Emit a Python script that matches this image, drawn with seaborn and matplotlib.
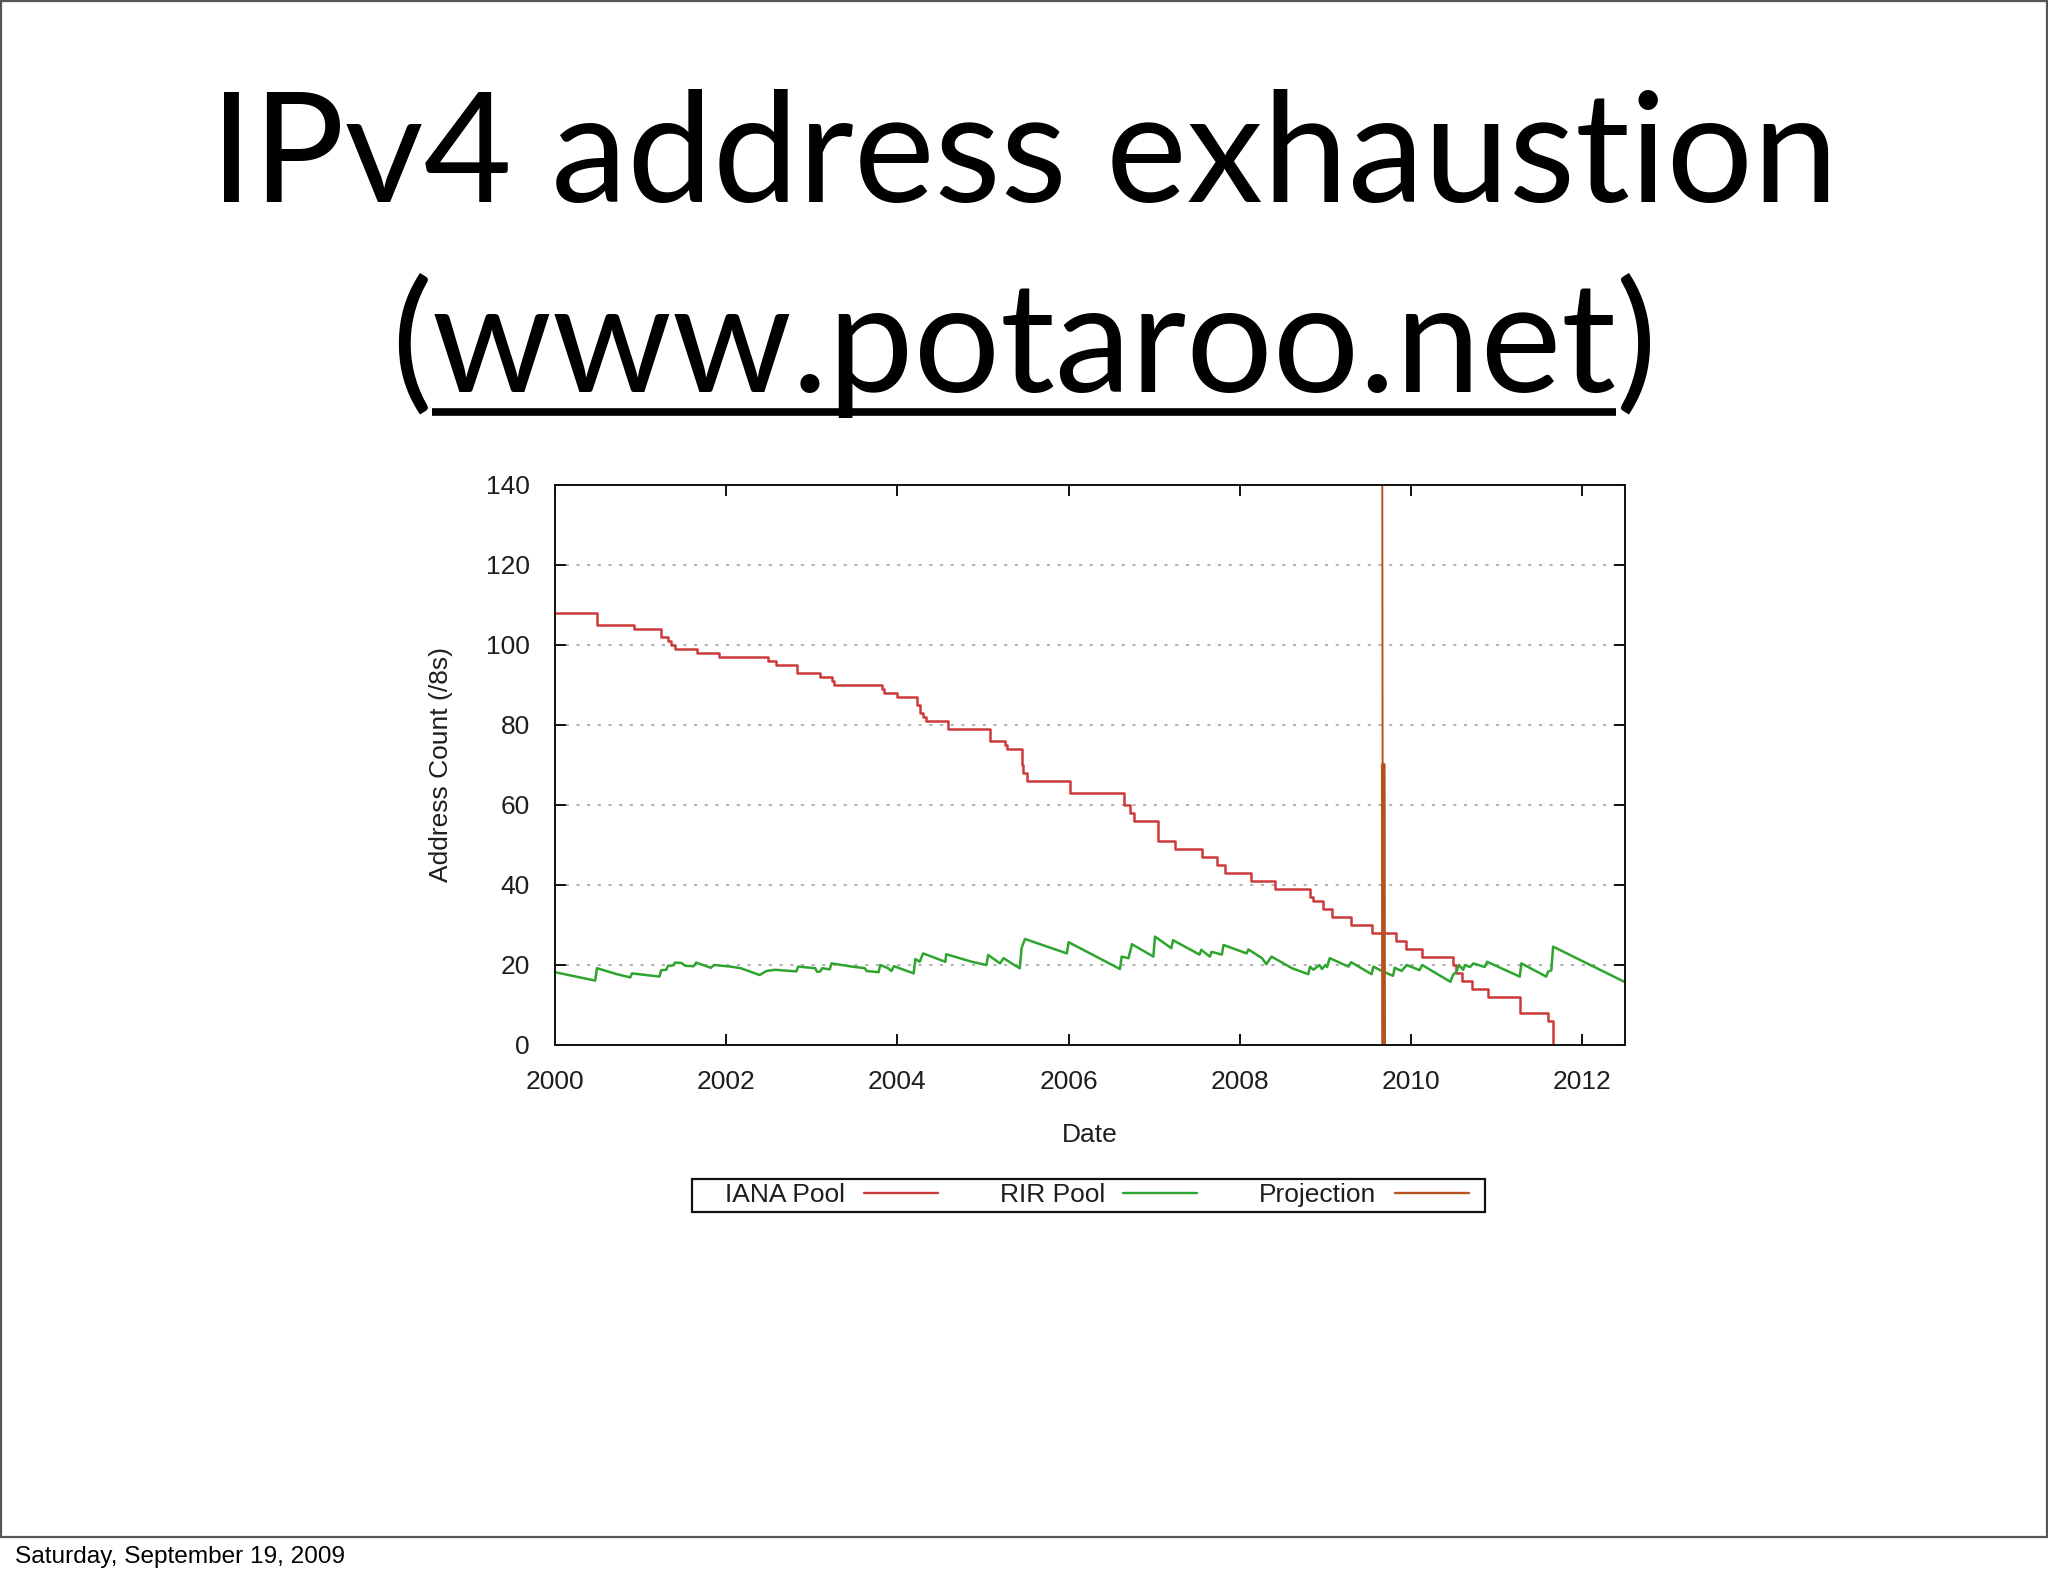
import numpy as np
import pandas as pd
import matplotlib
matplotlib.use("Agg")
import matplotlib.pyplot as plt
import seaborn as sns
from matplotlib.patches import Rectangle
from matplotlib.lines import Line2D

# ---------------- data ----------------
title_lines = ["IPv4 address exhaustion", "(www.potaroo.net)"]
underlined_part = "www.potaroo.net"
footer_text = "Saturday, September 19, 2009"
x_label = "Date"
y_label = "Address Count (/8s)"
legend_labels = ["IANA Pool", "RIR Pool", "Projection"]
x_ticks = [2000, 2002, 2004, 2006, 2008, 2010, 2012]
y_ticks = [0, 20, 40, 60, 80, 100, 120, 140]

# IANA pool: step start (year) and remaining /8 count
iana_years = [2000.00, 2000.49, 2000.92, 2001.24, 2001.32, 2001.35, 2001.40, 2001.66,
              2001.92, 2002.49, 2002.58, 2002.83, 2003.09, 2003.24, 2003.26, 2003.82,
              2003.84, 2004.00, 2004.23, 2004.26, 2004.30, 2004.33, 2004.59, 2005.08,
              2005.26, 2005.28, 2005.45, 2005.47, 2005.51, 2006.02, 2006.65, 2006.72,
              2006.76, 2007.05, 2007.24, 2007.56, 2007.73, 2007.83, 2008.13, 2008.41,
              2008.82, 2008.86, 2008.97, 2009.08, 2009.30, 2009.55, 2009.82, 2009.94,
              2010.13, 2010.49, 2010.52, 2010.59, 2010.71, 2010.90, 2011.27, 2011.60,
              2011.66]
iana_counts = [108, 105, 104, 102, 101, 100, 99, 98,
               97, 96, 95, 93, 92, 91, 90, 89,
               88, 87, 85, 83, 82, 81, 79, 76,
               75, 74, 70, 68, 66, 63, 60, 58,
               56, 51, 49, 47, 45, 43, 41, 39,
               37, 36, 34, 32, 30, 28, 26, 24,
               22, 20, 18, 16, 14, 12, 8, 6,
               0]

# RIR pool: sawtooth (allocations drain, IANA hand-outs refill)
rir_years = [2000.00, 2000.47, 2000.49, 2000.74, 2000.88, 2000.90, 2001.22, 2001.24,
             2001.30, 2001.32, 2001.38, 2001.40, 2001.48, 2001.52, 2001.62, 2001.65,
             2001.82, 2001.86, 2002.05, 2002.17, 2002.39, 2002.47, 2002.57, 2002.82,
             2002.84, 2003.04, 2003.06, 2003.10, 2003.12, 2003.21, 2003.23, 2003.47,
             2003.62, 2003.64, 2003.78, 2003.80, 2003.89, 2003.93, 2003.96, 2004.19,
             2004.21, 2004.26, 2004.30, 2004.56, 2004.57, 2004.87, 2005.04, 2005.06,
             2005.14, 2005.20, 2005.24, 2005.35, 2005.43, 2005.45, 2005.49, 2005.98,
             2006.00, 2006.60, 2006.62, 2006.70, 2006.74, 2006.99, 2007.01, 2007.20,
             2007.22, 2007.53, 2007.55, 2007.65, 2007.67, 2007.79, 2007.81, 2008.08,
             2008.10, 2008.26, 2008.31, 2008.37, 2008.61, 2008.80, 2008.82, 2008.86,
             2008.93, 2008.96, 2009.00, 2009.02, 2009.05, 2009.27, 2009.30, 2009.54,
             2009.56, 2009.66, 2009.79, 2009.81, 2009.89, 2009.95, 2010.10, 2010.13,
             2010.46, 2010.49, 2010.53, 2010.56, 2010.61, 2010.63, 2010.69, 2010.73,
             2010.86, 2010.89, 2011.27, 2011.29, 2011.58, 2011.60, 2011.64, 2011.66,
             2012.53]
rir_counts = [18.2, 16.1, 19.2, 17.6, 16.9, 17.9, 17.1, 18.7,
              18.8, 19.8, 19.9, 20.6, 20.5, 19.8, 19.7, 20.6,
              19.3, 20.0, 19.6, 19.2, 17.5, 18.5, 18.8, 18.4,
              19.6, 19.2, 18.3, 18.4, 19.2, 18.9, 20.4, 19.6,
              19.2, 18.5, 18.2, 20.0, 19.2, 18.5, 19.7, 17.9,
              21.5, 20.8, 22.9, 20.8, 22.7, 20.8, 20.0, 22.5,
              21.3, 20.4, 21.7, 20.2, 19.2, 24.2, 26.5, 22.9,
              25.7, 19.0, 22.1, 21.7, 25.2, 22.1, 27.1, 24.2,
              26.2, 22.6, 23.8, 22.1, 23.3, 22.6, 25.0, 22.9,
              23.9, 21.7, 20.2, 22.1, 19.2, 17.7, 19.6, 18.8,
              20.0, 19.0, 20.0, 19.5, 21.7, 19.6, 20.7, 17.7,
              19.6, 18.5, 17.3, 19.3, 18.5, 20.0, 18.7, 20.0,
              15.8, 17.5, 18.3, 20.0, 18.8, 20.0, 19.5, 20.4,
              19.5, 20.8, 17.1, 20.4, 17.1, 18.3, 18.7, 24.6,
              15.4]

# Projection of IANA exhaustion (near-vertical trace)
proj_years = [2009.664, 2009.672]
proj_counts = [150, 0]
proj_core_years = [2009.676, 2009.680]
proj_core_counts = [70, 0]

# ---------------- style ----------------
W, H = 2048, 1576
sns.set_style("white")
plt.rcParams["font.family"] = ["Liberation Sans", "DejaVu Sans"]

c_iana = "#cc3b3b"
c_rir = "#2ea52e"
c_proj = "#b5521f"
txt_col = "#1e1e1e"
chart_fs = 19

fig = plt.figure(figsize=(W / 100, H / 100), dpi=100)
fig.patch.set_facecolor("white")

ax_l, ax_r, ax_t, ax_b = 555, 1625, 485, 1045
ax = fig.add_axes([ax_l / W, 1 - ax_b / H, (ax_r - ax_l) / W, (ax_b - ax_t) / H])

iana_df = pd.DataFrame({"year": iana_years, "count": iana_counts})
rir_df = pd.DataFrame({"year": rir_years, "count": rir_counts})
proj_df = pd.DataFrame({"year": proj_years, "count": proj_counts})
proj_core_df = pd.DataFrame({"year": proj_core_years, "count": proj_core_counts})

sns.lineplot(data=iana_df, x="year", y="count", ax=ax, color=c_iana, lw=1.8,
             drawstyle="steps-post", estimator=None, sort=False)
sns.lineplot(data=rir_df, x="year", y="count", ax=ax, color=c_rir, lw=1.8,
             estimator=None, sort=False)
sns.lineplot(data=proj_df, x="year", y="count", ax=ax, color=c_proj, lw=1.4,
             estimator=None, sort=False)
sns.lineplot(data=proj_core_df, x="year", y="count", ax=ax, color=c_proj, lw=3.4,
             estimator=None, sort=False)
if ax.get_legend() is not None:
    ax.get_legend().remove()

ax.set_xlim(2000, 2012.5)
ax.set_ylim(0, 140)
ax.set_xticks(x_ticks)
ax.set_xticklabels([str(t) for t in x_ticks])
ax.set_yticks(y_ticks)
ax.set_yticklabels([str(t) for t in y_ticks])
ax.yaxis.grid(True, color="#9a9a9a", linestyle=(0, (2.0, 5.0)), linewidth=1.1)
ax.xaxis.grid(False)
ax.set_axisbelow(True)
for s in ax.spines.values():
    s.set_color("#111111")
    s.set_linewidth(1.4)
    s.set_visible(True)
ax.tick_params(axis="both", which="major", direction="in", length=8, width=1.4,
               top=True, right=True, bottom=True, left=True,
               labelsize=chart_fs, labelcolor=txt_col, color="#111111")
ax.tick_params(axis="x", pad=18)
ax.tick_params(axis="y", pad=18)
ax.set_xlabel(x_label, fontsize=chart_fs, color=txt_col, labelpad=21)
ax.set_ylabel(y_label, fontsize=chart_fs, color=txt_col, labelpad=24)

# legend (gnuplot-like: text then sample line)
handles = [Line2D([], [], color=c_iana, lw=1.7),
           Line2D([], [], color=c_rir, lw=1.7),
           Line2D([], [], color=c_proj, lw=1.7)]
leg = fig.legend(handles, legend_labels, loc="center",
                 bbox_to_anchor=(1097 / W, 1 - 1195 / H), ncol=3,
                 markerfirst=False, frameon=False, fontsize=chart_fs,
                 handlelength=2.8, handletextpad=0.7, columnspacing=2.35,
                 borderpad=0.0, borderaxespad=0.0)
for t in leg.get_texts():
    t.set_color(txt_col)
fig.add_artist(Rectangle((692 / W, 1 - 1212 / H), (1485 - 692) / W, (1212 - 1179) / H,
                         transform=fig.transFigure, facecolor="none",
                         edgecolor="#111111", lw=1.6))

# slide title
title_font = ["Lato", "DejaVu Sans"]
title_fs = 110
fig.text(0.5, 1 - 202 / H, title_lines[0], ha="center", va="baseline",
         fontsize=title_fs, family=title_font, color="black")
t2 = fig.text(0.5, 1 - 392 / H, title_lines[1], ha="center", va="baseline",
              fontsize=title_fs, family=title_font, color="black")

# underline the link part
fig.canvas.draw()
r = fig.canvas.get_renderer()
bb = t2.get_window_extent(r)
i0 = title_lines[1].index(underlined_part)
pre = fig.text(0, 0, title_lines[1][:i0], fontsize=title_fs, family=title_font)
post = fig.text(0, 0, title_lines[1][i0 + len(underlined_part):], fontsize=title_fs,
                family=title_font)
w_pre = pre.get_window_extent(r).width
w_post = post.get_window_extent(r).width
pre.remove()
post.remove()
ux0 = (bb.x0 + w_pre) / W
ux1 = (bb.x1 - w_post) / W
uy = 1 - 412 / H
fig.add_artist(Line2D([ux0, ux1], [uy, uy], transform=fig.transFigure,
                      color="black", lw=5.5, solid_capstyle="butt"))

# slide frame and footer
fig.add_artist(Rectangle((0.0006, 1 - 1537 / H), 0.9988, 1537 / H - 0.0008,
                         transform=fig.transFigure, facecolor="none",
                         edgecolor="#555555", lw=1.6))
fig.text(15 / W, 1 - 1563 / H, footer_text, ha="left", va="baseline",
         fontsize=17.6, family=["Liberation Sans", "DejaVu Sans"], color="black")

fig.savefig("out.png", dpi=100, facecolor="white")
